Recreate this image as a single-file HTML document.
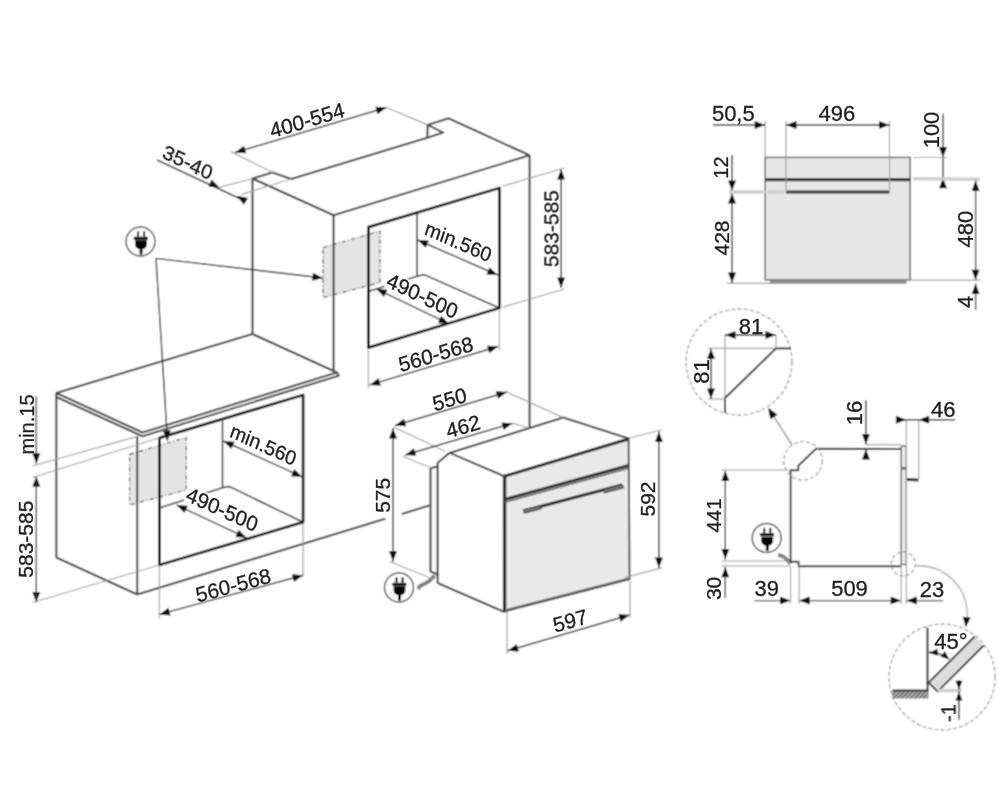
<!DOCTYPE html>
<html><head><meta charset="utf-8"><style>
html,body{margin:0;padding:0;background:#fff;width:999px;height:800px;overflow:hidden}
svg{display:block}

.o{stroke:#444;stroke-width:2.1;fill:none;stroke-linejoin:round}
.i{stroke:#383838;stroke-width:1.6;fill:none}
.c{stroke:#1a1a1a;stroke-width:2.8;fill:none;stroke-linejoin:round}
.e{stroke:#a0a0a0;stroke-width:1.2;fill:none}
.eg{stroke:#cfcfcf;stroke-width:3.5;fill:none}
.d{stroke:#333;stroke-width:1.4;fill:none}
.k{stroke:#333;stroke-width:2.0;fill:none}
.sk{fill:#e4e4e4;stroke:#4a4a4a;stroke-width:1.1;stroke-dasharray:4.5 2 1.2 2}
.ff{fill:#e9e9e9;stroke:#4a4a4a;stroke-width:1.9}
.fb{stroke:#333;stroke-width:3.0}
.fl{stroke:#666;stroke-width:1.4}
.hd{stroke:#333;stroke-width:3.2}
.hc{fill:#7a7a7a;stroke:#333;stroke-width:1.1}
.fv{stroke:#3a3a3a;stroke-width:3.2}
.fh{stroke:#3a3a3a;stroke-width:2.8}
.sv{stroke:#3a3a3a;stroke-width:1.9;fill:none;stroke-linejoin:round}
.dc{stroke:#a0a0a0;stroke-width:1.3;stroke-dasharray:4 2.2}
.gf{fill:#dedede;stroke:none}
.gs{fill:none;stroke:#333;stroke-width:1.9;stroke-linejoin:round}
text{font-family:"Liberation Sans",sans-serif;text-anchor:middle;stroke:#1e1e1e;stroke-width:0.3}

</style></head><body>
<svg width="999" height="800" viewBox="0 0 999 800">
<defs><filter id="bl" x="0" y="0" width="999" height="800" filterUnits="userSpaceOnUse"><feConvolveMatrix order="3" kernelMatrix="1 2 1 2 4 2 1 2 1" divisor="16" edgeMode="duplicate" preserveAlpha="true"/></filter><filter id="id" x="0" y="0" width="999" height="800" filterUnits="userSpaceOnUse"><feOffset dx="0" dy="0"/></filter></defs>
<g filter="url(#bl)">
<rect width="999" height="800" fill="#fff"/>
<polygon points="323.00,247.60 380.00,231.00 380.00,282.60 323.00,297.60" class="sk" />
<polyline points="252.50,178.50 272.50,172.50 291.20,179.00 427.30,137.80 443.10,132.60 427.70,124.90 448.40,118.20 529.60,155.30" class="o" />
<line x1="427.70" y1="124.90" x2="427.30" y2="137.80" class="o" />
<line x1="252.50" y1="178.50" x2="333.60" y2="215.20" class="o" />
<line x1="333.60" y1="215.20" x2="529.60" y2="155.30" class="o" />
<line x1="252.50" y1="178.50" x2="252.50" y2="334.00" class="o" />
<line x1="333.60" y1="215.20" x2="333.60" y2="371.50" class="o" />
<line x1="529.60" y1="155.30" x2="529.60" y2="427.50" class="o" />
<line x1="417.00" y1="213.80" x2="417.00" y2="276.30" class="i" />
<polyline points="417.00,276.30 424.00,274.60 499.40,308.00" class="i" />
<line x1="368.40" y1="291.50" x2="417.00" y2="276.30" class="i" />
<polygon points="368.40,227.20 499.40,188.00 499.40,308.00 368.40,347.70" class="c" />
<g transform="translate(140.50,241.50)"><circle r="14.5" fill="#fff" stroke="#555" stroke-width="1.5"/><rect x="-3.5" y="-10.2" width="2.1" height="5.4" rx="1" fill="#000"/><rect x="2.5" y="-10.2" width="2.1" height="5.4" rx="1" fill="#000"/><rect x="-6.9" y="-4.7" width="14.4" height="3.0" rx="1.2" fill="#000"/><path d="M-5.4,-1.2 H6.4 V2.3 Q6.4,6.9 2.0,7.7 V13 H-0.9 V7.7 Q-5.4,6.9 -5.4,2.3 Z" fill="#000"/></g>
<line x1="156.00" y1="258.40" x2="323.00" y2="278.00" class="d" />
<polygon points="323.00,278.00 312.11,280.75 313.04,272.80" fill="#111"/>
<line x1="156.00" y1="258.40" x2="167.50" y2="441.00" class="d" />
<polygon points="167.50,441.00 162.85,430.77 170.83,430.27" fill="#111"/>
<line x1="235.00" y1="152.50" x2="386.50" y2="107.50" class="d" />
<polygon points="235.00,152.50 243.93,145.68 246.20,153.34" fill="#111"/>
<polygon points="386.50,107.50 377.57,114.32 375.30,106.66" fill="#111"/>
<line x1="231.00" y1="151.60" x2="272.50" y2="172.50" class="e" />
<line x1="386.50" y1="107.50" x2="427.70" y2="124.90" class="e" />
<line x1="157.00" y1="160.00" x2="246.00" y2="201.50" class="d" />
<polygon points="219.60,187.40 208.38,186.85 211.58,179.53" fill="#111"/>
<polygon points="237.00,195.80 248.01,198.04 243.73,204.80" fill="#111"/>
<line x1="219.60" y1="187.40" x2="252.50" y2="178.50" class="e" />
<line x1="242.00" y1="194.40" x2="291.20" y2="179.00" class="e" />
<line x1="417.60" y1="240.00" x2="497.70" y2="275.00" class="d" />
<polygon points="417.60,240.00 428.82,240.54 425.62,247.87" fill="#111"/>
<polygon points="497.70,275.00 486.48,274.46 489.68,267.13" fill="#111"/>
<line x1="376.30" y1="288.80" x2="449.00" y2="323.90" class="d" />
<polygon points="376.30,288.80 387.49,289.76 384.02,296.97" fill="#111"/>
<polygon points="449.00,323.90 437.81,322.94 441.28,315.73" fill="#111"/>
<rect transform="matrix(0.9003,0.4352,-0.3525,0.9358,422.60,295.60)" x="-39.32" y="-8.57" width="78.65" height="17.14" fill="#fff"/>
<line x1="369.60" y1="384.90" x2="498.20" y2="346.50" class="d" />
<polygon points="369.60,384.90 378.52,378.06 380.81,385.73" fill="#111"/>
<polygon points="498.20,346.50 489.28,353.34 486.99,345.67" fill="#111"/>
<line x1="368.40" y1="350.00" x2="368.40" y2="388.50" class="e" />
<line x1="499.40" y1="310.00" x2="499.40" y2="350.00" class="e" />
<line x1="561.10" y1="169.10" x2="561.10" y2="288.00" class="d" />
<polygon points="561.10,169.10 565.10,179.60 557.10,179.60" fill="#111"/>
<polygon points="561.10,288.00 557.10,277.50 565.10,277.50" fill="#111"/>
<line x1="502.70" y1="186.10" x2="564.30" y2="168.00" class="e" />
<line x1="502.70" y1="307.10" x2="564.30" y2="289.00" class="e" />
<polygon points="129.50,454.40 186.30,437.50 186.30,490.00 129.50,505.00" class="sk" />
<line x1="56.30" y1="393.00" x2="252.50" y2="334.00" class="o" />
<line x1="252.50" y1="334.00" x2="337.00" y2="372.50" class="o" />
<polyline points="56.30,397.00 56.30,393.00 142.50,432.50 337.00,372.50 338.60,375.80 142.50,436.30 56.30,397.00" class="o" />
<line x1="56.30" y1="397.00" x2="56.30" y2="557.50" class="o" />
<line x1="137.20" y1="436.30" x2="137.20" y2="594.50" class="o" />
<line x1="56.30" y1="557.50" x2="137.20" y2="594.50" class="o" />
<line x1="137.20" y1="594.50" x2="385.30" y2="518.80" class="o" />
<line x1="401.80" y1="514.00" x2="429.30" y2="505.50" class="o" />
<line x1="222.50" y1="420.60" x2="222.50" y2="487.80" class="i" />
<polyline points="222.50,487.80 229.00,486.40 303.10,522.20" class="i" />
<line x1="159.40" y1="508.00" x2="222.50" y2="487.80" class="i" />
<polygon points="159.40,437.80 303.10,395.00 303.10,522.20 159.40,565.00" class="c" />
<line x1="36.30" y1="396.00" x2="36.30" y2="463.80" class="d" />
<polygon points="36.30,463.80 32.30,453.30 40.30,453.30" fill="#111"/>
<polygon points="36.30,476.30 40.30,486.80 32.30,486.80" fill="#111"/>
<polygon points="36.30,602.50 32.30,592.00 40.30,592.00" fill="#111"/>
<line x1="36.30" y1="476.30" x2="36.30" y2="602.50" class="d" />
<line x1="32.50" y1="466.00" x2="137.20" y2="436.30" class="e" />
<line x1="32.50" y1="477.50" x2="159.40" y2="437.80" class="e" />
<line x1="32.50" y1="602.50" x2="159.40" y2="565.00" class="e" />
<line x1="223.40" y1="441.00" x2="302.20" y2="476.90" class="d" />
<polygon points="223.40,441.00 234.61,441.71 231.30,448.99" fill="#111"/>
<polygon points="302.20,476.90 290.99,476.19 294.30,468.91" fill="#111"/>
<line x1="176.60" y1="505.00" x2="246.50" y2="537.80" class="d" />
<polygon points="176.60,505.00 187.80,505.84 184.41,513.08" fill="#111"/>
<polygon points="246.50,537.80 235.30,536.96 238.69,529.72" fill="#111"/>
<rect transform="matrix(0.9100,0.4147,-0.3355,0.9421,222.30,509.20)" x="-39.32" y="-8.57" width="78.65" height="17.14" fill="#fff"/>
<line x1="159.40" y1="614.40" x2="303.10" y2="575.30" class="d" />
<polygon points="159.40,614.40 168.48,607.78 170.58,615.50" fill="#111"/>
<polygon points="303.10,575.30 294.02,581.92 291.92,574.20" fill="#111"/>
<line x1="159.40" y1="567.00" x2="159.40" y2="619.00" class="e" />
<line x1="303.10" y1="524.00" x2="303.10" y2="577.00" class="e" />
<polyline points="430.50,572.00 430.50,468.30 437.60,466.50" class="o" />
<line x1="430.50" y1="571.50" x2="437.60" y2="574.50" class="o" />
<polyline points="437.60,583.00 437.60,463.00 449.50,452.90 563.20,417.60 628.60,438.50" class="o" />
<line x1="449.70" y1="452.90" x2="503.70" y2="476.00" class="o" />
<line x1="437.60" y1="583.00" x2="503.80" y2="611.70" class="o" />
<polygon points="503.70,476.00 628.60,438.50 629.60,579.20 503.80,611.70" class="ff" />
<line x1="504.80" y1="476.00" x2="504.80" y2="611.50" class="fb" />
<line x1="503.70" y1="476.50" x2="628.60" y2="439.00" class="fb" />
<line x1="504.80" y1="499.50" x2="628.60" y2="465.50" class="fb" />
<line x1="504.80" y1="502.30" x2="628.60" y2="468.30" class="fl" />
<line x1="525.00" y1="510.50" x2="622.00" y2="485.00" class="hd" />
<polygon points="523.50,509.80 540.00,505.60 541.00,508.80 524.50,513.00" class="hc" />
<polygon points="603.50,489.60 622.00,484.80 623.50,488.00 604.50,492.80" class="hc" />
<line x1="507.00" y1="609.50" x2="628.00" y2="578.50" class="fl" />
<path d="M434.5,575.5 Q430,582 420,586 L418,589" fill="none" stroke="#555" stroke-width="3.6"/>
<path d="M434.5,575.5 Q430,582 420,586 L418,589" fill="none" stroke="#aaa" stroke-width="1.2"/>
<g transform="translate(399.00,587.50)"><circle r="14.5" fill="#fff" stroke="#555" stroke-width="1.5"/><rect x="-3.5" y="-10.2" width="2.1" height="5.4" rx="1" fill="#000"/><rect x="2.5" y="-10.2" width="2.1" height="5.4" rx="1" fill="#000"/><rect x="-6.9" y="-4.7" width="14.4" height="3.0" rx="1.2" fill="#000"/><path d="M-5.4,-1.2 H6.4 V2.3 Q6.4,6.9 2.0,7.7 V13 H-0.9 V7.7 Q-5.4,6.9 -5.4,2.3 Z" fill="#000"/></g>
<line x1="393.00" y1="428.00" x2="393.00" y2="561.50" class="d" />
<polygon points="393.00,428.00 397.00,438.50 389.00,438.50" fill="#111"/>
<polygon points="393.00,561.50 389.00,551.00 397.00,551.00" fill="#111"/>
<line x1="393.75" y1="427.00" x2="445.00" y2="451.25" class="e" />
<line x1="389.50" y1="561.50" x2="434.00" y2="579.50" class="e" />
<line x1="395.00" y1="425.50" x2="507.00" y2="392.00" class="d" />
<polygon points="395.00,425.50 403.91,418.66 406.21,426.32" fill="#111"/>
<polygon points="507.00,392.00 498.09,398.84 495.79,391.18" fill="#111"/>
<line x1="507.00" y1="392.00" x2="563.20" y2="417.60" class="e" />
<line x1="405.00" y1="455.00" x2="512.60" y2="423.30" class="d" />
<polygon points="405.00,455.00 413.94,448.20 416.20,455.87" fill="#111"/>
<polygon points="512.60,423.30 503.66,430.10 501.40,422.43" fill="#111"/>
<line x1="402.50" y1="456.25" x2="431.00" y2="468.00" class="e" />
<line x1="512.60" y1="423.30" x2="529.50" y2="428.00" class="e" />
<line x1="658.90" y1="431.40" x2="658.90" y2="567.90" class="d" />
<polygon points="658.90,431.40 662.90,441.90 654.90,441.90" fill="#111"/>
<polygon points="658.90,567.90 654.90,557.40 662.90,557.40" fill="#111"/>
<line x1="629.00" y1="438.00" x2="662.00" y2="429.75" class="e" />
<line x1="624.75" y1="577.60" x2="662.00" y2="567.90" class="e" />
<line x1="507.75" y1="650.75" x2="629.60" y2="615.00" class="d" />
<polygon points="507.75,650.75 516.70,643.96 518.95,651.63" fill="#111"/>
<polygon points="629.60,615.00 620.65,621.79 618.40,614.12" fill="#111"/>
<line x1="507.00" y1="612.00" x2="507.00" y2="654.00" class="e" />
<line x1="630.00" y1="581.00" x2="630.00" y2="618.00" class="e" />
<rect x="765.2" y="157.4" width="145" height="122.4" fill="#e7e7e7" stroke="#707070" stroke-width="1.6"/>
<rect x="769.8" y="280.2" width="136.7" height="3" fill="#8a8a8a"/>
<line x1="765.20" y1="179.60" x2="910.20" y2="179.60" class="fv" />
<line x1="786.00" y1="192.00" x2="889.50" y2="192.00" class="fh" />
<line x1="765.20" y1="121.00" x2="765.20" y2="157.40" class="e" />
<line x1="786.00" y1="121.00" x2="786.00" y2="192.00" class="e" />
<line x1="889.50" y1="121.00" x2="889.50" y2="192.00" class="e" />
<line x1="713.00" y1="125.00" x2="765.20" y2="125.00" class="d" />
<polygon points="765.20,125.00 754.70,129.00 754.70,121.00" fill="#111"/>
<line x1="786.00" y1="125.00" x2="889.50" y2="125.00" class="d" />
<polygon points="786.00,125.00 796.50,121.00 796.50,129.00" fill="#111"/>
<polygon points="889.50,125.00 879.00,129.00 879.00,121.00" fill="#111"/>
<line x1="732.00" y1="155.00" x2="732.00" y2="191.00" class="d" />
<polygon points="732.00,191.00 728.00,180.50 736.00,180.50" fill="#111"/>
<line x1="732.00" y1="193.00" x2="732.00" y2="283.00" class="d" />
<polygon points="732.00,193.00 736.00,203.50 728.00,203.50" fill="#111"/>
<polygon points="732.00,283.00 728.00,272.50 736.00,272.50" fill="#111"/>
<line x1="729.00" y1="192.00" x2="784.00" y2="192.00" class="eg" />
<line x1="727.00" y1="283.30" x2="906.00" y2="283.30" class="e" />
<line x1="943.00" y1="113.75" x2="943.00" y2="187.50" class="d" />
<polygon points="943.00,157.50 939.00,147.00 947.00,147.00" fill="#111"/>
<polygon points="943.00,177.80 947.00,188.30 939.00,188.30" fill="#111"/>
<line x1="913.00" y1="157.50" x2="947.00" y2="157.50" class="e" />
<line x1="913.00" y1="178.80" x2="980.00" y2="179.20" class="eg" />
<line x1="975.60" y1="180.60" x2="975.60" y2="280.20" class="d" />
<polygon points="975.60,180.60 979.60,191.10 971.60,191.10" fill="#111"/>
<polygon points="975.60,280.20 971.60,269.70 979.60,269.70" fill="#111"/>
<line x1="906.00" y1="280.20" x2="980.70" y2="280.20" class="e" />
<line x1="975.60" y1="283.50" x2="975.60" y2="310.00" class="d" />
<polygon points="975.60,283.50 979.60,294.00 971.60,294.00" fill="#111"/>
<circle cx="739" cy="362" r="53" fill="none" class="dc"/>
<line x1="708.00" y1="348.40" x2="776.00" y2="348.40" class="e" />
<line x1="776.00" y1="348.40" x2="791.00" y2="348.40" class="k" />
<line x1="725.00" y1="335.00" x2="725.00" y2="398.00" class="e" />
<line x1="725.00" y1="398.00" x2="725.00" y2="413.00" class="k" />
<line x1="725.00" y1="398.00" x2="776.00" y2="348.40" class="k" />
<line x1="725.00" y1="335.00" x2="776.00" y2="335.00" class="d" />
<polygon points="725.00,335.00 735.50,331.00 735.50,339.00" fill="#111"/>
<polygon points="776.00,335.00 765.50,339.00 765.50,331.00" fill="#111"/>
<line x1="776.00" y1="335.00" x2="776.00" y2="348.40" class="e" />
<line x1="711.00" y1="348.40" x2="711.00" y2="399.00" class="d" />
<polygon points="711.00,348.40 715.00,358.90 707.00,358.90" fill="#111"/>
<polygon points="711.00,399.00 707.00,388.50 715.00,388.50" fill="#111"/>
<line x1="708.00" y1="399.00" x2="725.00" y2="399.00" class="e" />
<line x1="791.00" y1="444.00" x2="769.00" y2="409.00" class="e" />
<polygon points="768.00,408.00 777.02,414.69 770.28,419.00" fill="#111"/>
<polyline points="901.20,449.00 816.00,448.80 798.30,465.80 798.30,470.20 790.60,470.20 790.60,561.70 798.60,561.70 798.60,566.30 901.20,566.30" class="sv" />
<rect x="901.2" y="446" width="5.2" height="21.6" fill="#ececec" stroke="#555" stroke-width="1.3"/>
<rect x="901.2" y="469" width="5.2" height="95.5" fill="#ececec" stroke="#555" stroke-width="1.3"/>
<line x1="906.40" y1="479.50" x2="918.50" y2="480.00" class="fh" />
<line x1="906.40" y1="419.00" x2="906.40" y2="604.00" class="e" />
<line x1="918.60" y1="419.00" x2="918.60" y2="480.00" class="e" />
<line x1="865.90" y1="400.00" x2="865.90" y2="444.60" class="d" />
<polygon points="865.90,444.60 861.90,434.10 869.90,434.10" fill="#111"/>
<line x1="865.90" y1="449.00" x2="865.90" y2="460.00" class="d" />
<polygon points="865.90,449.00 869.90,459.50 861.90,459.50" fill="#111"/>
<line x1="865.90" y1="444.60" x2="901.00" y2="444.60" class="e" />
<line x1="897.30" y1="419.80" x2="955.20" y2="419.80" class="d" />
<polygon points="906.40,419.80 895.90,423.80 895.90,415.80" fill="#111"/>
<polygon points="918.60,419.80 929.10,415.80 929.10,423.80" fill="#111"/>
<line x1="725.30" y1="470.50" x2="725.30" y2="559.60" class="d" />
<polygon points="725.30,470.50 729.30,481.00 721.30,481.00" fill="#111"/>
<polygon points="725.30,559.60 721.30,549.10 729.30,549.10" fill="#111"/>
<line x1="721.50" y1="470.00" x2="789.00" y2="470.00" class="e" />
<line x1="721.50" y1="561.00" x2="790.00" y2="561.00" class="e" />
<line x1="721.50" y1="566.00" x2="790.00" y2="566.00" class="e" />
<line x1="725.30" y1="566.80" x2="725.30" y2="598.00" class="d" />
<polygon points="725.30,566.80 729.30,577.30 721.30,577.30" fill="#111"/>
<line x1="754.60" y1="600.60" x2="790.50" y2="600.60" class="d" />
<polygon points="790.50,600.60 780.00,604.60 780.00,596.60" fill="#111"/>
<line x1="799.20" y1="600.60" x2="901.20" y2="600.60" class="d" />
<polygon points="799.20,600.60 809.70,596.60 809.70,604.60" fill="#111"/>
<polygon points="901.20,600.60 890.70,604.60 890.70,596.60" fill="#111"/>
<line x1="906.40" y1="600.60" x2="943.00" y2="600.60" class="d" />
<polygon points="906.40,600.60 916.90,596.60 916.90,604.60" fill="#111"/>
<line x1="790.50" y1="566.00" x2="790.50" y2="604.00" class="e" />
<line x1="799.20" y1="566.00" x2="799.20" y2="604.00" class="e" />
<line x1="901.20" y1="566.00" x2="901.20" y2="604.00" class="e" />
<g transform="translate(766.70,538.00)"><circle r="14.5" fill="#fff" stroke="#555" stroke-width="1.5"/><rect x="-3.5" y="-10.2" width="2.1" height="5.4" rx="1" fill="#000"/><rect x="2.5" y="-10.2" width="2.1" height="5.4" rx="1" fill="#000"/><rect x="-6.9" y="-4.7" width="14.4" height="3.0" rx="1.2" fill="#000"/><path d="M-5.4,-1.2 H6.4 V2.3 Q6.4,6.9 2.0,7.7 V13 H-0.9 V7.7 Q-5.4,6.9 -5.4,2.3 Z" fill="#000"/></g>
<path d="M778,555 Q786,556 790.3,564" fill="none" stroke="#555" stroke-width="3.6"/>
<path d="M778,555 Q786,556 790.3,564" fill="none" stroke="#aaa" stroke-width="1.2"/>
<circle cx="803" cy="460.8" r="19.2" fill="none" class="dc"/>
<circle cx="903.2" cy="564" r="12" fill="none" class="dc"/>
<line x1="792.00" y1="444.60" x2="769.00" y2="408.70" class="e" />
<polygon points="768.50,408.00 777.54,414.67 770.81,419.00" fill="#111"/>
<path d="M916,565.8 L920,565.8 A48,50 0 0 1 967.5,612 L966.8,620" fill="none" class="e"/>
<polygon points="965.70,627.50 962.81,616.64 970.76,617.47" fill="#111"/>
<circle cx="942.1" cy="677" r="53" fill="none" class="dc"/>
<defs><pattern id="hatch" width="3" height="3" patternUnits="userSpaceOnUse" patternTransform="rotate(45)"><rect width="3" height="3" fill="#aaa"/><line x1="0" y1="0" x2="0" y2="3" stroke="#333" stroke-width="1.4"/></pattern></defs>
<rect x="892.2" y="690.5" width="36.4" height="8" fill="url(#hatch)"/>
<line x1="892.60" y1="690.50" x2="928.60" y2="690.50" class="k" />
<line x1="927.50" y1="627.50" x2="927.50" y2="690.50" class="k" />
<polygon points="928.60,682.60 937.60,691.60 983.70,645.50 974.70,636.50" class="gf" />
<polyline points="974.70,636.50 928.60,682.60 937.60,691.60 983.70,645.50" class="gs" />
<path d="M928.6,652.2 Q940,652 948.8,659" fill="none" class="d"/>
<polygon points="928.80,653.00 937.45,648.71 938.08,655.69" fill="#111"/>
<polygon points="949.50,659.80 940.39,656.59 944.95,651.28" fill="#111"/>
<line x1="937.60" y1="690.50" x2="962.00" y2="690.50" class="eg" />
<line x1="959.00" y1="680.00" x2="959.00" y2="689.70" class="d" />
<polygon points="959.00,689.70 955.50,680.70 962.50,680.70" fill="#111"/>
<line x1="959.00" y1="691.40" x2="959.00" y2="719.70" class="d" />
<polygon points="959.00,691.40 962.50,700.40 955.50,700.40" fill="#111"/>
</g>
<g filter="url(#id)">
<text transform="matrix(0.9586,-0.2847,0.2289,0.9734,307.00,120.00)" x="0" y="7.56" font-size="21" fill="#1e1e1e">400-554</text>
<text transform="matrix(0.9026,0.4305,-0.3486,0.9373,188.00,161.50)" x="0" y="7.56" font-size="21" fill="#1e1e1e">35-40</text>
<text transform="matrix(0.9164,0.4003,-0.3236,0.9462,458.50,241.50)" x="0" y="7.20" font-size="20" fill="#1e1e1e">min.560</text>
<text transform="matrix(0.9003,0.4352,-0.3525,0.9358,422.60,295.60)" x="0" y="7.56" font-size="21" fill="#1e1e1e">490-500</text>
<text transform="matrix(0.9583,-0.2857,0.2297,0.9733,435.70,354.00)" x="0" y="7.56" font-size="21" fill="#1e1e1e">560-568</text>
<text transform="translate(550.50,228.60) rotate(-90.00)" x="0" y="7.56" font-size="21" fill="#1e1e1e">583-585</text>
<text transform="translate(26.30,424.50) rotate(-90.00)" x="0" y="7.20" font-size="20" fill="#1e1e1e">min.15</text>
<text transform="translate(25.00,539.20) rotate(-90.00)" x="0" y="7.56" font-size="21" fill="#1e1e1e">583-585</text>
<text transform="matrix(0.9100,0.4147,-0.3355,0.9421,263.50,444.50)" x="0" y="7.20" font-size="20" fill="#1e1e1e">min.560</text>
<text transform="matrix(0.9100,0.4147,-0.3355,0.9421,222.30,509.20)" x="0" y="7.56" font-size="21" fill="#1e1e1e">490-500</text>
<text transform="matrix(0.9650,-0.2622,0.2106,0.9776,233.20,585.00)" x="0" y="7.56" font-size="21" fill="#1e1e1e">560-568</text>
<text transform="translate(382.50,495.30) rotate(-90.00)" x="0" y="7.56" font-size="21" fill="#1e1e1e">575</text>
<text transform="matrix(0.9581,-0.2865,0.2304,0.9731,449.50,399.00)" x="0" y="7.56" font-size="21" fill="#1e1e1e">550</text>
<text transform="matrix(0.9583,-0.2857,0.2297,0.9733,463.00,426.25)" x="0" y="7.56" font-size="21" fill="#1e1e1e">462</text>
<text transform="translate(647.50,499.00) rotate(-90.00)" x="0" y="7.56" font-size="21" fill="#1e1e1e">592</text>
<text transform="matrix(0.9596,-0.2815,0.2263,0.9741,570.10,620.50)" x="0" y="7.56" font-size="21" fill="#1e1e1e">597</text>
<text transform="translate(733.30,113.20) rotate(0.00)" x="0" y="7.92" font-size="22" fill="#1e1e1e">50,5</text>
<text transform="translate(836.90,113.20) rotate(0.00)" x="0" y="7.92" font-size="22" fill="#1e1e1e">496</text>
<text transform="translate(720.80,167.50) rotate(-90.00)" x="0" y="7.20" font-size="20" fill="#1e1e1e">12</text>
<text transform="translate(721.30,238.00) rotate(-90.00)" x="0" y="7.56" font-size="21" fill="#1e1e1e">428</text>
<text transform="translate(930.60,130.00) rotate(-90.00)" x="0" y="7.92" font-size="22" fill="#1e1e1e">100</text>
<text transform="translate(965.30,229.20) rotate(-90.00)" x="0" y="7.92" font-size="22" fill="#1e1e1e">480</text>
<text transform="translate(965.30,301.90) rotate(-90.00)" x="0" y="7.92" font-size="22" fill="#1e1e1e">4</text>
<text transform="translate(751.00,326.00) rotate(0.00)" x="0" y="7.92" font-size="22" fill="#1e1e1e">81</text>
<text transform="translate(701.30,371.50) rotate(-90.00)" x="0" y="7.92" font-size="22" fill="#1e1e1e">81</text>
<text transform="translate(853.80,413.00) rotate(-90.00)" x="0" y="7.92" font-size="22" fill="#1e1e1e">16</text>
<text transform="translate(943.20,409.00) rotate(0.00)" x="0" y="7.92" font-size="22" fill="#1e1e1e">46</text>
<text transform="translate(713.50,515.50) rotate(-90.00)" x="0" y="7.38" font-size="20.5" fill="#1e1e1e">441</text>
<text transform="translate(713.00,588.40) rotate(-90.00)" x="0" y="7.56" font-size="21" fill="#1e1e1e">30</text>
<text transform="translate(766.70,588.30) rotate(0.00)" x="0" y="7.92" font-size="22" fill="#1e1e1e">39</text>
<text transform="translate(849.50,588.30) rotate(0.00)" x="0" y="7.92" font-size="22" fill="#1e1e1e">509</text>
<text transform="translate(932.00,589.20) rotate(0.00)" x="0" y="7.92" font-size="22" fill="#1e1e1e">23</text>
<text transform="translate(950.80,641.00) rotate(0.00)" x="0" y="7.92" font-size="22" fill="#1e1e1e">45°</text>
<text transform="translate(948.50,713.00) rotate(-90.00)" x="0" y="7.20" font-size="20" fill="#1e1e1e">-1</text>
</g>
</svg></body></html>
